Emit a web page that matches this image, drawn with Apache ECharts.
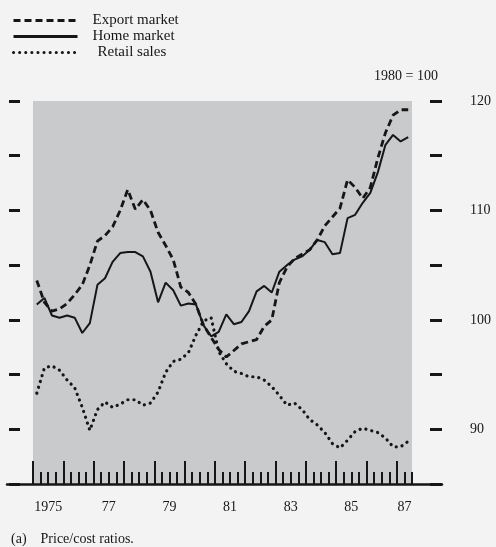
<!DOCTYPE html>
<html>
<head>
<meta charset="utf-8">
<script src="https://cdn.jsdelivr.net/npm/echarts@6.0.0/dist/echarts.min.js"></script>
<style>
  html, body { margin: 0; padding: 0; background: #f3f3f3; }
  #chart { width: 496px; height: 547px; }
</style>
</head>
<body>
<div id="chart"></div>
<script>
// quarterly series, 1975 Q1 .. 1987 Q2 (1980 = 100)
var years = [1975, 1976, 1977, 1978, 1979, 1980, 1981, 1982, 1983, 1984, 1985, 1986, 1987];
var quartersPerYear = 4;
var lastQuarter = 2; // data stops at 1987 Q2

var exportMarket = [103.6, 101.6, 100.8, 101.0, 101.5, 102.3, 103.2, 105.0, 107.2, 107.7,
  108.5, 110.0, 111.9, 110.1, 111.0, 110.0, 108.0, 106.8, 105.5, 103.0,
  102.5, 101.4, 99.5, 98.4, 97.3, 96.6, 97.2, 97.8, 98.0, 98.2,
  99.4, 100.0, 103.4, 104.8, 105.6, 106.0, 106.4, 107.3, 108.6, 109.4,
  110.2, 112.8, 112.1, 111.1, 112.1, 114.8, 117.1, 118.7, 119.2, 119.2];
var homeMarket = [101.4, 102.0, 100.4, 100.2, 100.4, 100.2, 98.8, 99.7, 103.2, 103.8,
  105.3, 106.1, 106.2, 106.2, 105.8, 104.4, 101.6, 103.4, 102.7, 101.3,
  101.5, 101.4, 99.5, 98.5, 98.9, 100.5, 99.6, 99.8, 100.8, 102.6,
  103.1, 102.5, 104.4, 105.0, 105.5, 105.8, 106.4, 107.3, 107.1, 106.0,
  106.1, 109.3, 109.6, 110.7, 111.6, 113.5, 116.0, 116.9, 116.3, 116.7];
var retailSales = [93.3, 95.6, 95.8, 95.4, 94.5, 93.8, 92.0, 89.9, 91.8, 92.5,
  92.0, 92.3, 92.7, 92.7, 92.2, 92.4, 93.4, 95.2, 96.2, 96.4,
  97.0, 98.6, 99.9, 100.2, 97.1, 96.0, 95.3, 95.1, 94.8, 94.8,
  94.5, 93.9, 93.1, 92.2, 92.4, 91.8, 90.9, 90.4, 89.7, 88.7,
  88.3, 89.0, 89.8, 90.1, 89.9, 89.7, 89.2, 88.4, 88.4, 88.9];

var xLabels = ['1975', '77', '79', '81', '83', '85', '87'];
var xLabelYears = [1975, 1977, 1979, 1981, 1983, 1985, 1987];
var yLabels = [90, 100, 110, 120];

// quarter mid-points in years
var quarterPos = [];
years.forEach(function (y) {
  for (var q = 1; q <= quartersPerYear; q++) {
    if (y === years[years.length - 1] && q > lastQuarter) break;
    quarterPos.push(y + (q - 0.5) / quartersPerYear);
  }
});
var xMin = years[0];
var xMax = years[years.length - 1] + lastQuarter / quartersPerYear;
// label sits mid-year, or mid of the part-year at the end
var xLabelPos = xLabelYears.map(function (y) {
  return Math.min(y + 0.5, (y + xMax) / 2);
});

function pairs(arr) {
  return arr.map(function (v, i) { return [quarterPos[i], v]; });
}

var font = "'Liberation Serif', 'DejaVu Serif', serif";
var ink = '#161616';

var myChart = echarts.init(document.getElementById('chart'));
myChart.setOption({
  backgroundColor: '#f3f3f3',
  animation: false,
  textStyle: { fontFamily: font, color: ink },
  title: [
    {
      text: '1980 = 100',
      right: 53,
      top: 64,
      textStyle: { fontFamily: font, fontSize: 14, fontWeight: 'normal', color: ink }
    },
    {
      text: '(a)    Price/cost ratios.',
      left: 6,
      top: 527,
      textStyle: { fontFamily: font, fontSize: 14, fontWeight: 'normal', color: ink }
    }
  ],
  legend: {
    orient: 'vertical',
    left: 7,
    top: 8,
    itemWidth: 64,
    itemHeight: 12,
    itemGap: 1,
    // line series draw a marker in the legend; keep only the line
    itemStyle: { color: 'transparent', borderWidth: 0, opacity: 0 },
    lineStyle: { width: 3 },
    textStyle: { fontFamily: font, fontSize: 15, lineHeight: 13, color: ink, padding: [0, 0, 0, 10] },
    data: [
      { name: 'Export market' },
      { name: 'Home market' },
      { name: 'Retail sales', textStyle: { padding: [0, 0, 0, 15] } }
    ]
  },
  grid: [
    { left: 33, right: 84, top: 101, bottom: 63, show: true, backgroundColor: '#c9cacc', borderWidth: 0 },
    // only for the long base line under the chart
    { left: 7, right: 54, top: 101, bottom: 63, show: false }
  ],
  xAxis: [
    {
      type: 'value',
      gridIndex: 0,
      min: xMin,
      max: xMax,
      interval: 1 / quartersPerYear,
      axisLine: { show: false },
      axisTick: { show: true, inside: true, length: 12, lineStyle: { color: ink, width: 2 } },
      axisLabel: { show: false },
      splitLine: { show: false }
    },
    {
      type: 'value',
      gridIndex: 0,
      position: 'bottom',
      min: xMin,
      max: xMax,
      axisLine: { show: false },
      axisTick: { show: true, inside: true, length: 23, customValues: years, lineStyle: { color: ink, width: 2 } },
      axisLabel: {
        show: true,
        customValues: xLabelPos,
        margin: 16,
        fontFamily: font,
        fontSize: 14,
        color: ink,
        formatter: function (v) {
          for (var i = 0; i < xLabelPos.length; i++) {
            if (Math.abs(xLabelPos[i] - v) < 1e-6) return xLabels[i];
          }
          return '';
        }
      },
      splitLine: { show: false }
    },
    {
      type: 'value',
      gridIndex: 1,
      min: 0,
      max: 1,
      axisLine: { show: true, lineStyle: { color: ink, width: 2.5 } },
      axisTick: { show: false },
      axisLabel: { show: false },
      splitLine: { show: false }
    }
  ],
  yAxis: [
    {
      type: 'value',
      gridIndex: 0,
      position: 'left',
      min: 85,
      max: 120,
      interval: 5,
      offset: 13,
      axisLine: { show: false },
      axisTick: { show: true, length: 11, lineStyle: { color: ink, width: 3 } },
      axisLabel: { show: false },
      splitLine: { show: false }
    },
    {
      type: 'value',
      gridIndex: 0,
      position: 'right',
      min: 85,
      max: 120,
      interval: 5,
      offset: 18,
      axisLine: { show: false },
      axisTick: { show: true, length: 12, lineStyle: { color: ink, width: 3 } },
      axisLabel: {
        show: true,
        margin: 40,
        fontFamily: font,
        fontSize: 14,
        color: ink,
        formatter: function (v) {
          return yLabels.indexOf(v) >= 0 ? String(v) : '';
        }
      },
      splitLine: { show: false }
    },
    { type: 'value', gridIndex: 1, min: 0, max: 1, show: false }
  ],
  series: [
    {
      name: 'Export market',
      type: 'line',
      xAxisIndex: 0,
      yAxisIndex: 0,
      symbol: 'none',
      itemStyle: { color: ink },
      lineStyle: { color: ink, width: 2.8, type: [7, 4] },
      data: pairs(exportMarket)
    },
    {
      name: 'Home market',
      type: 'line',
      xAxisIndex: 0,
      yAxisIndex: 0,
      symbol: 'none',
      itemStyle: { color: ink },
      lineStyle: { color: ink, width: 2 },
      data: pairs(homeMarket)
    },
    {
      name: 'Retail sales',
      type: 'line',
      xAxisIndex: 0,
      yAxisIndex: 0,
      symbol: 'none',
      itemStyle: { color: ink },
      lineStyle: { color: ink, width: 3.2, type: [0.1, 6], cap: 'round' },
      data: pairs(retailSales)
    }
  ]
});
</script>
</body>
</html>
